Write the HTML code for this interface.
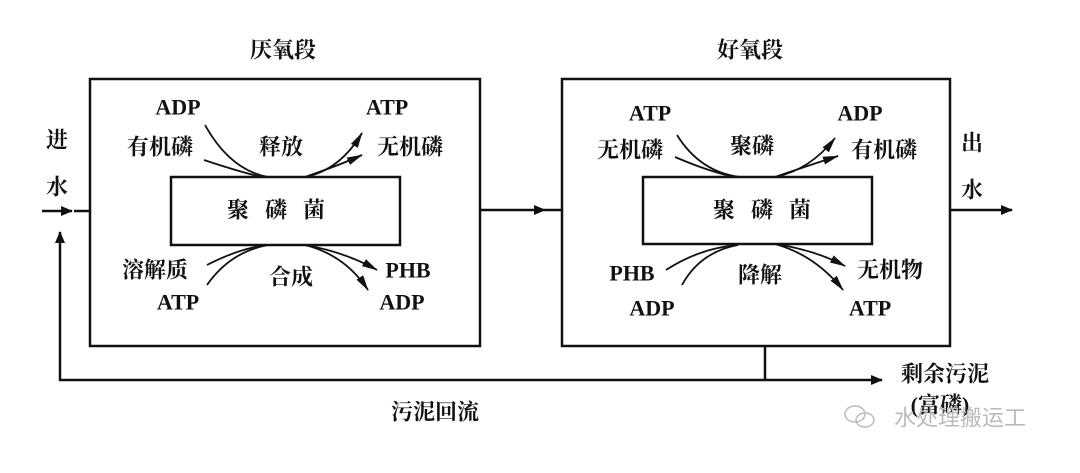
<!DOCTYPE html>
<html><head><meta charset="utf-8"><style>
body{margin:0;background:#fff;}
svg text{font-family:"Liberation Serif","Noto Serif CJK SC",serif;font-size:22px;fill:#111;text-anchor:middle;dominant-baseline:central;font-weight:bold;}
</style></head><body>
<svg width="1080" height="468" viewBox="0 0 1080 468" xmlns="http://www.w3.org/2000/svg">
<defs><marker id="a" markerWidth="12" markerHeight="10" refX="11" refY="5" orient="auto" markerUnits="userSpaceOnUse"><path d="M0,0 L12,5 L0,10 Z" fill="#111"/></marker>
<marker id="b" markerWidth="16" markerHeight="10" refX="15" refY="5" orient="auto" markerUnits="userSpaceOnUse"><path d="M0,1 L16,5 L0,9 Z" fill="#111"/></marker></defs>
<g stroke="#111" stroke-width="2.5" fill="none">
<rect x="90" y="79" width="390" height="267"/>
<rect x="171" y="177" width="229" height="68"/>
<rect x="562" y="79" width="388" height="267"/>
<rect x="643" y="177" width="229" height="67"/>
<line x1="42" y1="211" x2="72" y2="211" marker-end="url(#a)"/><line x1="74" y1="211" x2="90" y2="211"/>
<line x1="480" y1="210" x2="545" y2="210" marker-end="url(#a)"/><line x1="545" y1="210" x2="562" y2="210"/>
<line x1="950" y1="210" x2="1012" y2="210" marker-end="url(#a)"/>
<line x1="765" y1="346" x2="765" y2="380"/>
<polyline points="765,380 60,380 60,232" marker-end="url(#a)"/>
<line x1="765" y1="380" x2="882" y2="380" marker-end="url(#a)"/>
</g>
<g stroke="#111" stroke-width="1.8" fill="none">
<path d="M205,125 Q230,170 268,177"/><path d="M204,160 Q240,172 262,177"/>
<path d="M305,177 Q340,170 362,133" marker-end="url(#b)"/><path d="M305,177 Q340,165 362,155" marker-end="url(#b)"/>
<path d="M207,265 Q240,248 268,245"/><path d="M207,285 Q230,252 268,245"/>
<path d="M305,245 Q345,252 377,270" marker-end="url(#b)"/><path d="M305,245 Q345,255 368,290" marker-end="url(#b)"/>
<path d="M677,135 Q700,172 740,177"/><path d="M675,157 Q710,172 735,177"/>
<path d="M775,177 Q810,170 835,138" marker-end="url(#b)"/><path d="M775,177 Q810,165 838,156" marker-end="url(#b)"/>
<path d="M666,270 Q700,248 738,245"/><path d="M682,285 Q700,252 738,245"/>
<path d="M775,244 Q815,250 845,266" marker-end="url(#b)"/><path d="M775,244 Q815,255 843,290" marker-end="url(#b)"/>
</g>
<text x="283" y="50">厌氧段</text><text x="750" y="50">好氧段</text>
<text x="178" y="107">ADP</text><text x="160" y="147">有机磷</text><text x="281" y="147">释放</text>
<text x="387" y="107">ATP</text><text x="410" y="147">无机磷</text>
<text x="284" y="210" style="letter-spacing:16px">聚磷菌</text>
<text x="155" y="270">溶解质</text><text x="291" y="277">合成</text><text x="178" y="302">ATP</text>
<text x="408" y="270">PHB</text><text x="402" y="302">ADP</text>
<text x="57" y="140">进</text><text x="57" y="187">水</text>
<text x="650" y="113">ATP</text><text x="630" y="150">无机磷</text><text x="752" y="146">聚磷</text>
<text x="860" y="113">ADP</text><text x="884" y="150">有机磷</text>
<text x="770" y="210" style="letter-spacing:16px">聚磷菌</text>
<text x="632" y="273">PHB</text><text x="760" y="275">降解</text><text x="890" y="270">无机物</text>
<text x="652" y="308">ADP</text><text x="870" y="308">ATP</text>
<text x="972" y="143">出</text><text x="972" y="190">水</text>
<text x="945" y="374">剩余污泥</text><text x="940" y="405">(富磷)</text>
<text x="435" y="412">污泥回流</text>
<text x="960" y="418" style="fill:#bbb;font-weight:normal;font-family:'Liberation Sans','Noto Sans CJK SC',sans-serif">水处理搬运工</text>
<g stroke="#bbb" stroke-width="1.5" fill="none"><ellipse cx="855" cy="414" rx="10" ry="8"/><ellipse cx="865" cy="420" rx="9" ry="7"/></g>
</svg>
</body></html>
